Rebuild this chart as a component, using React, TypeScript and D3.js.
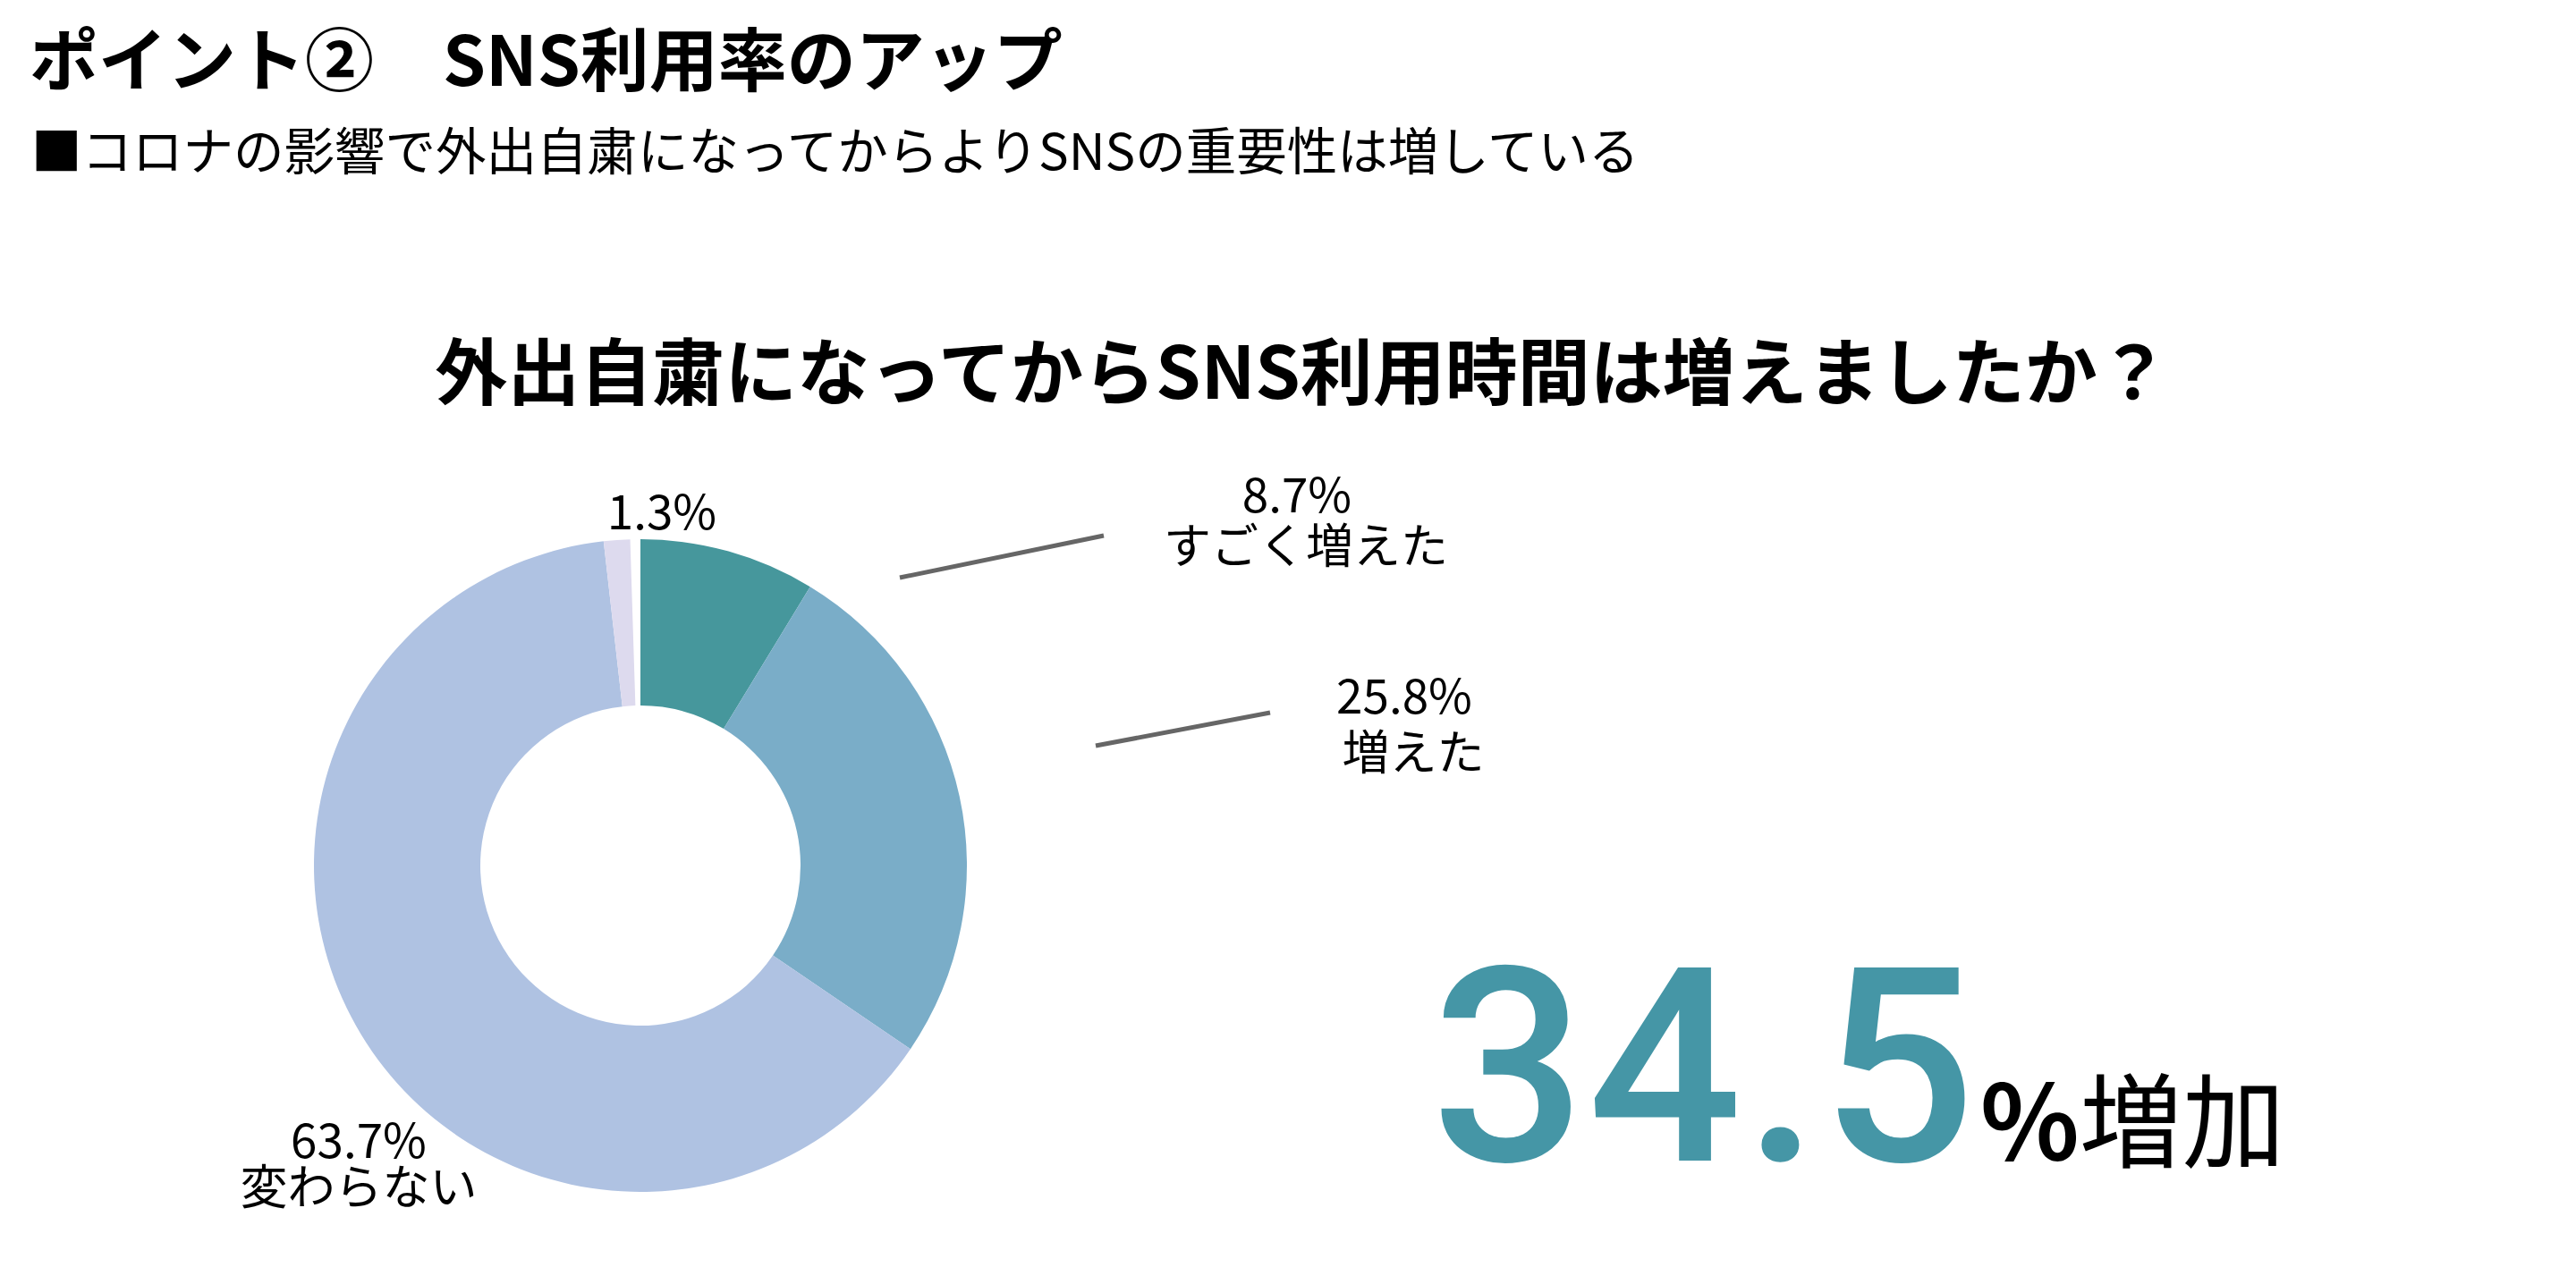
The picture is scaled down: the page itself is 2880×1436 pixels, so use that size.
import React from "react";
import * as d3 from "d3";

const pageTitle = "ポイント②　SNS利用率のアップ";
const pageSubtitle = "■コロナの影響で外出自粛になってからよりSNSの重要性は増している";
const chartTitle = "外出自粛になってからSNS利用時間は増えましたか？";

const categories = ["すごく増えた", "増えた", "変わらない", "減った"];
const values = [8.7, 25.8, 63.7, 1.3];
const showCategory = [true, true, true, false];
const sliceColors = ["#46979C", "#7AADC8", "#AFC2E2", "#DDDAEE"];

const headlineValue = "34.5";
const headlineUnit = "%";
const headlineWord = "増加";

// label layout (pixel anchors for the manually placed labels)
const labelLayout = [
  { x: 1450, y: 573, dy: 57, dx2: 10, line: [[1006, 646], [1234, 599]] },
  { x: 1570, y: 798, dy: 63, dx2: 10, line: [[1225, 834], [1420, 797]] },
  { x: 401, y: 1295, dy: 52, dx2: 0, line: null },
  { x: 740, y: 592, dy: 0, dx2: 0, line: null },
];

const W = 2880;
const H = 1436;
const cx = 716;
const cy = 968;
const outerR = 365;
const innerR = 179;
const jp = "'Noto Sans CJK JP', 'Noto Sans', sans-serif";

export default function App() {
  const total = 100;
  const pie = d3
    .pie<number>()
    .sort(null)
    .value((d) => d)
    .startAngle(0)
    .endAngle((2 * Math.PI * d3.sum(values)) / total);
  const arcs = pie(values);
  const arc = d3.arc<d3.PieArcDatum<number>>().innerRadius(innerR).outerRadius(outerR);
  const fmt = (v: number) => d3.format(".1f")(v) + "%";
  const line = d3.line();

  return (
    <svg
      width={W}
      height={H}
      style={{ position: "absolute", left: 0, top: 0, background: "#fff" }}
    >
      <rect x={0} y={0} width={W} height={H} fill="#fff" />
      <text x={33} y={96} fontFamily={jp} fontWeight={700} fontSize={77} fill="#000">
        {pageTitle}
      </text>
      <text x={35} y={190} fontFamily={jp} fontWeight={400} fontSize={56.5} fill="#000">
        {pageSubtitle}
      </text>
      <text
        x={1456}
        y={446}
        textAnchor="middle"
        fontFamily={jp}
        fontWeight={700}
        fontSize={81}
        fill="#000"
      >
        {chartTitle}
      </text>

      <g transform={`translate(${cx},${cy})`}>
        {arcs.map((a, i) => (
          <path key={i} d={arc(a) || ""} fill={sliceColors[i]} />
        ))}
      </g>

      {labelLayout.map((l, i) =>
        l.line ? (
          <path
            key={"l" + i}
            d={line(l.line as [number, number][]) || ""}
            stroke="#666"
            strokeWidth={5}
            fill="none"
          />
        ) : null
      )}

      {values.map((v, i) => {
        const l = labelLayout[i];
        return (
          <g key={"t" + i} fontFamily={jp} fontSize={53} fill="#000" textAnchor="middle">
            <text x={l.x} y={l.y}>{fmt(v)}</text>
            {showCategory[i] ? (
              <text x={l.x + l.dx2} y={l.y + l.dy}>
                {categories[i]}
              </text>
            ) : null}
          </g>
        );
      })}

      <text
        x={1600}
        y={1298}
        fontFamily="Roboto, 'Liberation Sans', sans-serif"
        fontWeight={500}
        fontSize={304}
        letterSpacing={2}
        fill="#4596A6"
      >
        {headlineValue}
      </text>
      <text x={2214} y={1297} fontFamily={jp} fontSize={115} fill="#000">
        <tspan fontWeight={700}>{headlineUnit}</tspan>
        <tspan fontWeight={400}>{headlineWord}</tspan>
      </text>
    </svg>
  );
}
